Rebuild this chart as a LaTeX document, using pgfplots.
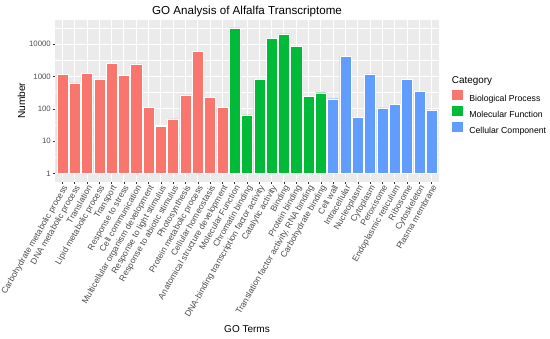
\documentclass[border=0pt]{standalone}
\usepackage{pgfplots}
\pgfplotsset{compat=1.18}
\usepackage{fontspec}
\setmainfont{Liberation Sans}
\definecolor{bp}{HTML}{F8766D}
\definecolor{mf}{HTML}{00BA38}
\definecolor{cc}{HTML}{619CFF}
\definecolor{panelbg}{HTML}{EBEBEB}
\definecolor{gray30}{HTML}{4D4D4D}
\definecolor{gray20}{HTML}{333333}
\begin{document}
\begin{tikzpicture}[x=1pt,y=1pt]
\useasboundingbox (0,0) rectangle (550,339);
\begin{axis}[
  at={(55pt,157.3pt)}, anchor=south west,
  scale only axis, width=384pt, height=161.7pt,
  xmin=-0.6, xmax=30.6,
  ymode=log, ymin=0.566, ymax=55450,
  clip=false,
  axis background/.style={fill=panelbg},
  axis line style={draw=none},
  xtick={0,...,30},
  xticklabels={Carbohydrate metabolic process, DNA metabolic process, Translation, Lipid metabolic process, Transport, Response to stress, Cell communication, Multicellular organism development, Response to light stimulus, Response to abiotic stimulus, Photosynthesis, Protein metabolic process, Cellular homeostasis, Anatomical structure development, Molecular Function, Chromatin binding, DNA-binding transcription factor activity, Catalytic activity, Binding, Protein binding, {Translation factor activity, RNA binding}, Carbohydrate binding, Cell wall, Intracellular, Nucleoplasm, Cytoplasm, Peroxisome, Endoplasmic reticulum, Ribosome, Cytoskeleton, Plasma membrane},
  ytick={1,10,100,1000,10000},
  yticklabels={1,10,100,1000,10000},
  minor ytick={3.1623,31.623,316.23,3162.3,31623},
  xmajorgrids, ymajorgrids, yminorgrids,
  major grid style={white, line width=0.9pt},
  minor grid style={white, line width=0.45pt},
  tick pos=left, tick align=outside,
  major tick length=2.4pt, minor tick length=0pt,
  tick style={color=gray20, line width=0.5pt},
  /pgf/number format/assume math mode=true,
  yticklabel style={font=\fontsize{7.8}{9}\selectfont, text=gray30, inner sep=0pt, anchor=east, xshift=-1.6pt},
  xticklabel style={font=\fontsize{8.6}{10}\selectfont, text=gray30, rotate=60, anchor=north east, inner sep=0pt},
  title={GO Analysis of Alfalfa Transcriptome},
  every axis title/.style={at={(axis description cs:0.5,1.031)}, anchor=base, font=\fontsize{11.6}{14}\selectfont},
  xlabel={GO Terms},
  every axis x label/.style={at={(axis description cs:0.5,-0.934)}, anchor=base, font=\fontsize{10}{12}\selectfont},
  ylabel={Number},
  every axis y label/.style={at={(axis description cs:-0.078,0.5)}, rotate=90, anchor=base, font=\fontsize{10.2}{12}\selectfont},
  legend style={at={(axis description cs:1.0346,0.5671)}, anchor=north west, draw=none, fill=none, inner sep=0pt, outer sep=0pt, row sep=2.9pt, font=\fontsize{8.7}{10}\selectfont, nodes={inner sep=0pt}},
  legend cell align=left,
  legend image code/.code={\fill[#1, draw=none] (0pt,-1.4pt) rectangle (10.4pt,9pt); \path[draw=none, fill=none] (10.4pt,0pt) -- (17pt,0pt);},
]
\addplot[ybar, bar width=0.9, bar shift=0pt, fill=bp, draw=white, line width=0.4pt, forget plot] coordinates {
(0,1140)(1,630)(2,1280)(3,820)(4,2500)(5,1060)(6,2440)(7,114)(8,29)(9,49)(10,270)(11,6100)(12,222)(13,112)};
\addplot[ybar, bar width=0.9, bar shift=0pt, fill=mf, draw=white, line width=0.4pt, forget plot] coordinates {
(14,31400)(15,65)(16,820)(17,15000)(18,20500)(19,8700)(20,245)(21,316)};
\addplot[ybar, bar width=0.9, bar shift=0pt, fill=cc, draw=white, line width=0.4pt, forget plot] coordinates {
(22,206)(23,4280)(24,55)(25,1200)(26,107)(27,138)(28,835)(29,350)(30,93)};
\addlegendimage{fill=bp, draw=none}
\addlegendentry{Biological Process}
\addlegendimage{fill=mf, draw=none}
\addlegendentry{Molecular Function}
\addlegendimage{fill=cc, draw=none}
\addlegendentry{Cellular Component}
\end{axis}
\node[anchor=base west, font=\fontsize{9.9}{12}\selectfont, inner sep=0pt] at (451.7,255) {Category};
\end{tikzpicture}
\end{document}
